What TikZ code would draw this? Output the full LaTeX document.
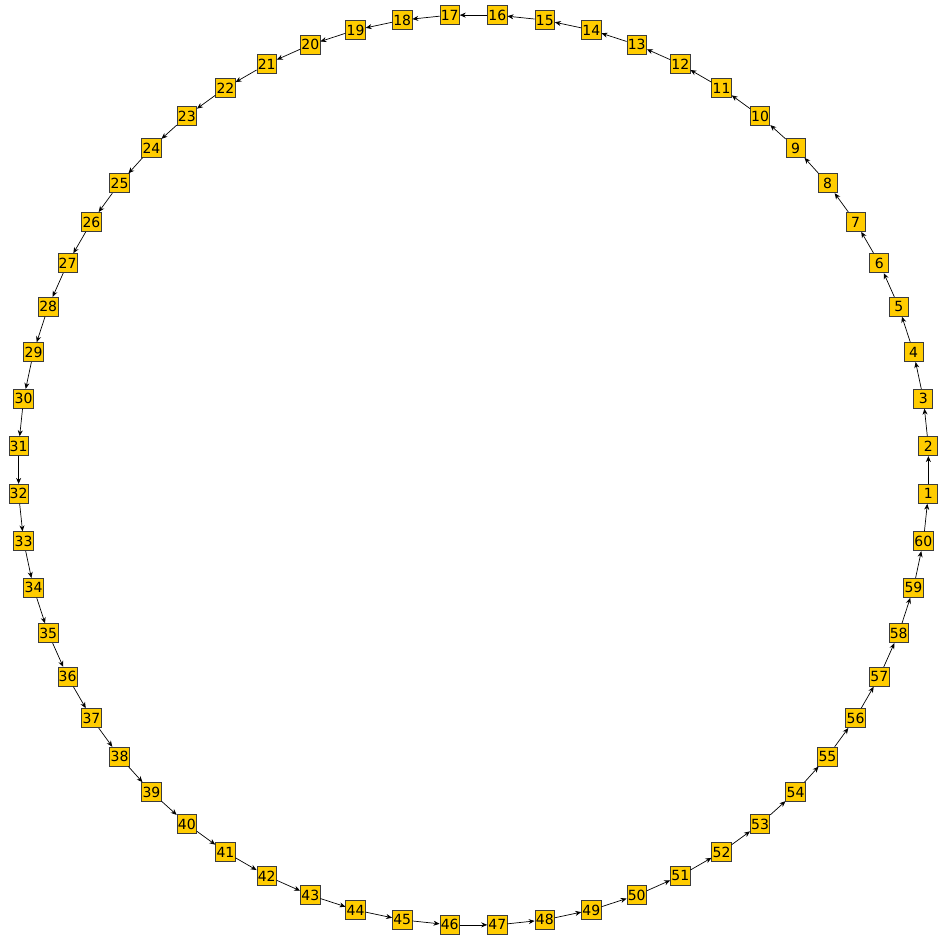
\documentclass[tikz,border=0pt]{standalone}
\usepackage{fontspec}
\setmainfont{DejaVu Sans}
\usetikzlibrary{arrows.meta}
\definecolor{ringgold}{HTML}{FFCC00}
\definecolor{ringedge}{HTML}{3C3C3C}

\begin{document}
\begin{tikzpicture}[
    x=1pt, y=1pt,
    every node/.style={font=\fontsize{14}{14}\selectfont},
    cell/.style={draw=ringedge, fill=ringgold, minimum width=19pt,
                 minimum height=19pt, inner sep=0.8pt, line width=0.8pt},
    link/.style={->, line width=0.7pt},
    >={Stealth[length=6pt, width=5pt]},
  ]
  \useasboundingbox (-473.5,-478) rectangle (469.5,470);
  % ring of 60 cells
  \foreach \k in {1,...,60}
    \node[cell] (n\k) at ({-3+6*(\k-1)}:455.5) {\k};
  \foreach \k in {1,...,60} {
    \pgfmathtruncatemacro{\nxt}{mod(\k,60)+1}
    \draw[link] (n\k) -- (n\nxt);
  }
\end{tikzpicture}
\end{document}
